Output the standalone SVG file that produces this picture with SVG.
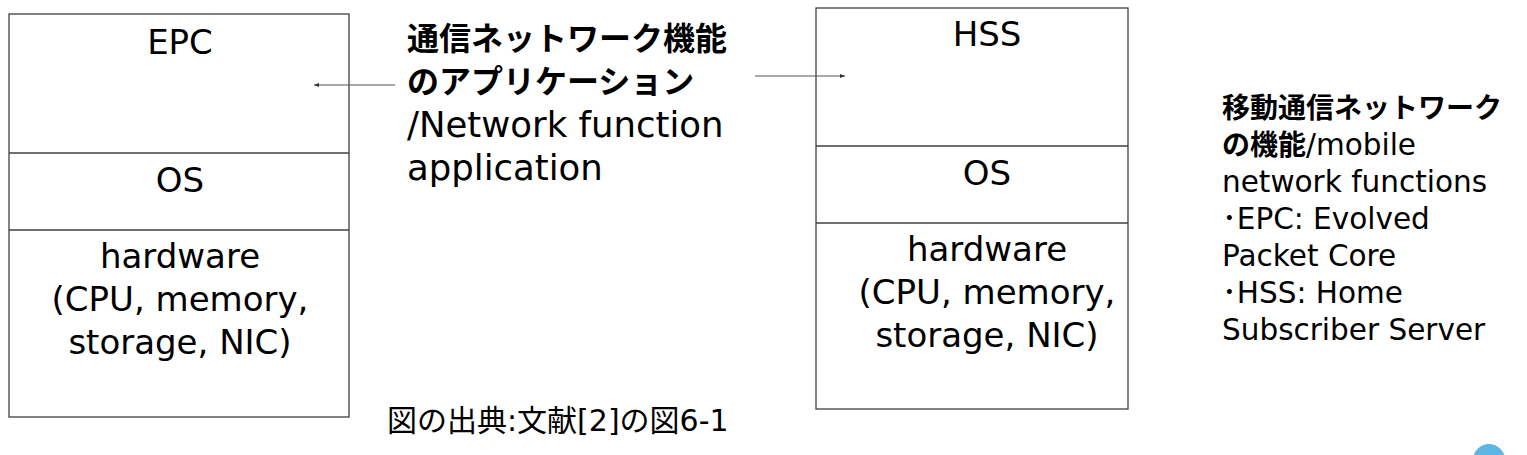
<svg xmlns="http://www.w3.org/2000/svg" width="1527" height="455" viewBox="0 0 1527 455">
<style>
.box{fill:#fff;stroke:#404040;stroke-width:1.3}
.div{stroke:#404040;stroke-width:1.3}
.t{font-family:"DejaVu Sans","Noto Sans CJK JP",sans-serif;fill:#000}
.bt{font-size:34px;text-anchor:middle}
.mid{font-size:35.5px}
.side{font-size:29.5px}
.jp{font-family:"Noto Sans CJK JP",sans-serif;font-weight:bold}
.mj{font-size:32px}
.sj{font-size:28px}
.cap{font-size:30px}
.conn{stroke:#555;stroke-width:1.2;fill:none}
</style>
<defs>
<marker id="ah" markerWidth="6" markerHeight="6" refX="5" refY="3" orient="auto" markerUnits="userSpaceOnUse">
<path d="M0,1 L5,3 L0,5 Z" fill="#333"/>
</marker>
</defs>
<g id="epc-stack">
<rect class="box" x="9" y="14" width="340" height="403"/>
<line class="div" x1="9" y1="153" x2="349" y2="153"/>
<line class="div" x1="9" y1="230" x2="349" y2="230"/>
<text class="t bt" x="180" y="54">EPC</text>
<text class="t bt" x="180" y="192">OS</text>
<text class="t bt" x="180" y="268">hardware</text>
<text class="t bt" x="180" y="311">(CPU, memory,</text>
<text class="t bt" x="180" y="354">storage, NIC)</text>
</g>
<g id="hss-stack">
<rect class="box" x="816" y="8" width="312" height="401"/>
<line class="div" x1="816" y1="146" x2="1128" y2="146"/>
<line class="div" x1="816" y1="223" x2="1128" y2="223"/>
<text class="t bt" x="987" y="46">HSS</text>
<text class="t bt" x="987" y="185">OS</text>
<text class="t bt" x="987" y="261">hardware</text>
<text class="t bt" x="987" y="304">(CPU, memory,</text>
<text class="t bt" x="987" y="347">storage, NIC)</text>
</g>
<g id="app-label">
<text class="t jp mj" x="407" y="50">通信ネットワーク機能</text>
<text class="t jp mj" x="407" y="93">のアプリケーション</text>
<text class="t mid" x="407" y="137">/Network function</text>
<text class="t mid" x="407" y="180">application</text>
</g>
<g id="side-note">
<text class="t jp sj" x="1222" y="118">移動通信ネットワーク</text>
<text class="t side" x="1222" y="155"><tspan class="jp sj">の機能</tspan>/mobile</text>
<text class="t side" x="1222" y="192">network functions</text>
<text class="t side" x="1222" y="229">･EPC: Evolved</text>
<text class="t side" x="1222" y="266">Packet Core</text>
<text class="t side" x="1222" y="303">･HSS: Home</text>
<text class="t side" x="1222" y="340">Subscriber Server</text>
</g>
<g id="caption">
<text class="t cap" x="387" y="431">図の出典:文献[2]の図6-1</text>
</g>
<g id="connectors">
<line class="conn" x1="395" y1="85" x2="314" y2="85" marker-end="url(#ah)"/>
<line class="conn" x1="755" y1="76" x2="845" y2="76" marker-end="url(#ah)"/>
</g>
<circle cx="1489" cy="460" r="16" fill="#5db6e3"/>
</svg>
